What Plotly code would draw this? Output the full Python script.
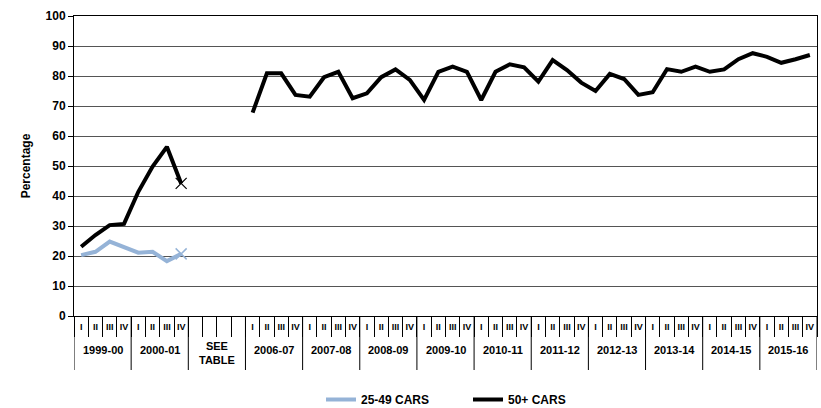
import plotly.graph_objects as go

years = ["1999-00", "2000-01", "SEE<br>TABLE", "2006-07", "2007-08", "2008-09", "2009-10",
         "2010-11", "2011-12", "2012-13", "2013-14", "2014-15", "2015-16"]
quarters = ["I", "II", "III", "IV"]

cars_25_49 = [20.3, 21.4, 24.8, 23.1, 21.1, 21.4, 18.3, 20.7]
cars_50_plus_early = [23.1, 27.0, 30.3, 30.7, 41.4, 49.8, 56.4, 44.2]
cars_50_plus_late = [67.8, 80.9, 80.9, 73.7,
                     73.1, 79.6, 81.4, 72.6,
                     74.2, 79.6, 82.2, 78.7,
                     72.0, 81.4, 83.1, 81.4,
                     72.0, 81.4, 83.9, 82.9,
                     78.1, 85.3, 82.0, 77.8,
                     75.0, 80.7, 79.0, 73.7,
                     74.6, 82.3, 81.4, 83.1,
                     81.4, 82.2, 85.6, 87.6,
                     86.4, 84.4, 85.6, 87.0]

# category positions
tick_text = []
for y in years:
    for q in quarters:
        tick_text.append("" if y.startswith("SEE") else q)
n = len(tick_text)
xpos = list(range(n))

s_blue = cars_25_49 + [None] * (n - len(cars_25_49))
s_black = cars_50_plus_early + [None] * 4 + cars_50_plus_late

FONT = "Arial, Liberation Sans, sans-serif"
BLUE = "#95B3D7"

fig = go.Figure()
fig.add_trace(go.Scatter(x=xpos, y=s_blue, mode="lines", name="<b>25-49 CARS</b>",
                         line=dict(color=BLUE, width=4), connectgaps=False))
fig.add_trace(go.Scatter(x=xpos, y=s_black, mode="lines", name="<b>50+ CARS</b>",
                         line=dict(color="#000000", width=4), connectgaps=False))
# end markers
fig.add_trace(go.Scatter(x=[len(cars_25_49) - 1], y=[cars_25_49[-1]], mode="markers",
                         marker=dict(symbol="x-thin-open", size=11, color=BLUE,
                                     line=dict(color=BLUE, width=1.5)),
                         showlegend=False, hoverinfo="skip"))
fig.add_trace(go.Scatter(x=[len(cars_50_plus_early) - 1], y=[cars_50_plus_early[-1]], mode="markers",
                         marker=dict(symbol="x-thin-open", size=11, color="black",
                                     line=dict(color="black", width=1.2)),
                         showlegend=False, hoverinfo="skip"))

# year group labels and dividers
for i, y in enumerate(years):
    center = i * 4 + 1.5
    fig.add_annotation(x=center, y=-0.085 if not y.startswith("SEE") else -0.072,
                       xref="x", yref="paper", text="<b>" + y + "</b>", showarrow=False,
                       yanchor="top", font=dict(size=11, family=FONT, color="black"))
for k in range(len(years) + 1):
    fig.add_shape(type="line", xref="x", yref="paper", x0=k * 4 - 0.5, x1=k * 4 - 0.5,
                  y0=0, y1=-0.18, line=dict(color="black", width=1))

fig.update_layout(
    width=821, height=408,
    margin=dict(l=74, r=4, t=16, b=92, autoexpand=False),
    paper_bgcolor="white", plot_bgcolor="white",
    font=dict(family=FONT, size=11, color="black"),
    legend=dict(orientation="h", x=(321 - 74) / 743, xanchor="left", y=-0.23, yanchor="top",
                font=dict(size=12, family=FONT), itemwidth=30, tracegroupgap=0,
                entrywidth=102, entrywidthmode="pixels"),
    showlegend=True,
)
fig.update_yaxes(range=[0, 100], dtick=10, showgrid=True, gridcolor="#555555", gridwidth=1,
                 showline=True, linecolor="black", linewidth=1, ticks="outside", ticklen=5,
                 tickcolor="black", tickfont=dict(size=12, family=FONT),
                 tickprefix="<b>", ticksuffix="</b>",
                 title=dict(text="<b>Percentage</b>", font=dict(size=12), standoff=12),
                 zeroline=False, mirror=True, automargin=False)
fig.update_xaxes(range=[-0.5, n - 0.5], tickmode="array", tickvals=xpos,
                 ticktext=["<b>" + t + "</b>" if t else "" for t in tick_text],
                 ticks="", tickfont=dict(size=9, family=FONT), ticklabelstandoff=2,
                 minor=dict(tickmode="array", tickvals=[k - 0.5 for k in range(n + 1)],
                            ticks="outside", ticklen=20, tickcolor="black", tickwidth=1, showgrid=False),
                 showline=True, linecolor="black", linewidth=1, mirror=True,
                 showgrid=False, zeroline=False, automargin=False)

fig.write_html("out.html", config={"displayModeBar": False},
               post_script="document.body.style.margin='0px';document.body.style.overflow='hidden';")
